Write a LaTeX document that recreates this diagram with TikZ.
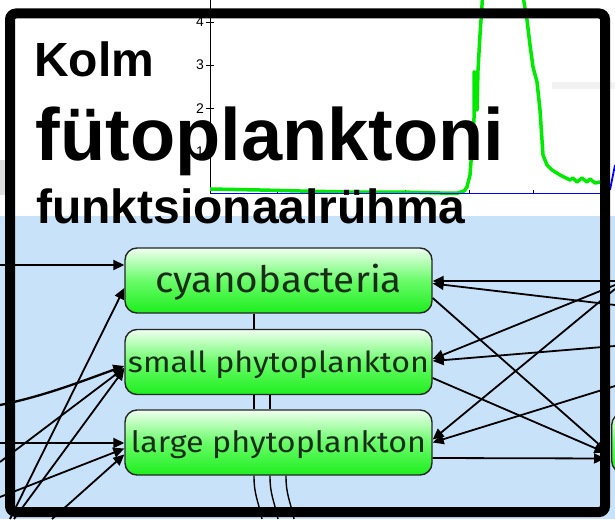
\documentclass[tikz,border=0pt]{standalone}
\usepackage{fontspec}
\usepackage{graphicx}
\setmainfont{Liberation Sans}
\newfontfamily\boxfont{Fira Sans}
\usetikzlibrary{arrows.meta,calc}
\definecolor{bgblue}{RGB}{200,226,250}
\definecolor{boxtop}{RGB}{240,255,240}
\definecolor{boxmid}{RGB}{105,252,105}
\definecolor{boxbot}{RGB}{30,238,30}
\definecolor{boxtext}{RGB}{25,45,25}
\definecolor{curvegreen}{RGB}{0,235,0}
\definecolor{axisblue}{RGB}{0,0,255}
\begin{document}
\begin{tikzpicture}[x=1pt,y=-1pt,
  phyto/.style={draw=black!85, line width=1.4pt, rounded corners=12pt,
    minimum width=307pt, minimum height=65pt, inner sep=0pt,
    top color=boxtop, bottom color=boxbot, middle color=boxmid, text=boxtext},
  link/.style={line width=1.8pt, draw=black, -{Triangle[length=11pt,width=10pt]}},
  tie/.style={line width=1.4pt, draw=black},
  title/.style={anchor=base west, inner sep=0pt, text=black},
  ticklab/.style={anchor=base east, inner sep=0pt, font=\fontsize{14}{14}\selectfont}
]
\clip (0,0) rectangle (615,519);
% backgrounds
\fill[white] (0,0) rectangle (615,519);
\fill[bgblue] (0,216) rectangle (615,519);
\fill[gray!25] (0,160) rectangle (5,195);
\fill[gray!10] (552,82) rectangle (615,89);

% plot
\draw[line width=1pt] (210,0) -- (210,194);
\foreach \yy/\lab in {22/4,65/3,108/2,151/1} {
  \draw[line width=0.8pt] (206,\yy) -- (214,\yy);
  \node[ticklab] at (204,\yy+5) {\lab};
}
\foreach \xx in {277,341,405,469,533} {
  \draw[line width=0.8pt] (\xx,194) -- (\xx,190);
}
\draw[curvegreen, line width=3.5pt, line join=round]
  (210,189) -- (260,190) -- (300,191) -- (350,192) -- (400,192) -- (440,193)
  -- (458,193) -- (464,191) -- (467,187) -- (470,175) -- (473,135) -- (474,118)
  -- (474,72) -- (476,73) -- (477,110) -- (478,70) -- (480,35) -- (483,-10)
  -- (522,-10) -- (527,20) -- (530,45) -- (533,67) -- (537,82) -- (540,110)
  -- (543,155) -- (547,165) -- (552,170) -- (560,175) -- (566,178) -- (570,180)
  -- (573,178) -- (577,182) -- (582,178) -- (587,182) -- (590,179) -- (595,183)
  -- (600,182);
\draw[axisblue, line width=1.8pt] (210,193.5) -- (600,193.5);
\draw[axisblue, line width=1.8pt] (610,190) -- (615,165);

% boxes
\node[phyto, text height=30pt, text depth=7pt] (cy) at (278.5,280.5)
  {\resizebox{247pt}{28.4pt}{\boxfont\fontsize{40}{40}\selectfont cyanobacteria}};
\node[phyto, text height=27pt, text depth=7pt] (sm) at (278.5,362)
  {\resizebox{301pt}{21.7pt}{\boxfont\fontsize{30}{30}\selectfont small phytoplankton}};
\node[phyto, text height=26pt, text depth=7pt] (lg) at (278.5,442.5)
  {\resizebox{295pt}{22pt}{\boxfont\fontsize{30}{30}\selectfont large phytoplankton}};
\node[phyto, minimum width=120pt, minimum height=60pt, anchor=west] (rt) at (611,443) {};

% free ends
\coordinate (L1) at (0,265);
\coordinate (L2) at (10,519);
\coordinate (L3) at (0,405);
\coordinate (L4) at (0,462);
\coordinate (L5) at (14,519);
\coordinate (L6) at (0,443);
\coordinate (L7) at (0,497);
\coordinate (L8) at (52,519);
\coordinate (R1) at (615,281);
\coordinate (R2) at (615,305);
\coordinate (R3) at (615,285);
\coordinate (R4) at (615,289);
\coordinate (R5) at (615,346);
\coordinate (R6) at (615,386);
\coordinate (B1) at (262,519);
\coordinate (B2) at (278,519);
\coordinate (B3) at (294,519);

% left connectors
\draw[link] (L1) -- (L1 -| cy.west);
\draw[link] (L2) -- ($(cy.west)+(0,7.5)$);
\draw[link, line width=2.3pt] (L3) .. controls (45,396) and (85,380) .. ($(sm.west)+(0,4)$);
\draw[link] (L4) -- ($(sm.west)+(0,6)$);
\draw[link] (L5) -- ($(sm.west)+(0,7)$);
\draw[link] (L6) -- (L6 -| lg.west);
\draw[link] (L7) -- ($(lg.west)+(0,6)$);
\draw[link] (L8) -- ($(lg.west)+(0,12)$);

% right connectors
\draw[link] (R1) -- (R1 -| cy.east);
\draw[link] (R2) -- ($(cy.east)+(0,3)$);
\draw[link] (R3) -- ($(sm.east)+(0,-3)$);
\draw[link] (R5) -- ($(sm.east)+(0,-1)$);
\draw[link] (R4) -- ($(lg.east)+(0,-3)$);
\draw[link] (R6) -- (lg.east);
\draw[link, shorten >=6pt] ($(cy.east)+(0,17.5)$) -- ($(rt.west)+(0,12)$);
\draw[link, shorten >=6pt] ($(sm.east)+(0,16)$) -- ($(rt.west)+(0,12)$);
\draw[link, shorten >=6pt] ($(lg.east)+(0,15.5)$) -- ($(rt.west)+(0,15.5)$);

% ties between boxes
\draw[tie] ($(cy.south)+(-24.5,0)$) -- ($(sm.north)+(-24.5,0)$);
\draw[tie] ($(sm.south)+(-24.5,0)$) -- ($(lg.north)+(-24.5,0)$);
\draw[tie] ($(sm.south)+(-8.5,0)$) -- ($(lg.north)+(-8.5,0)$);
\draw[tie] ($(lg.south)+(-24.5,0)$) .. controls (254,495) and (258,500) .. (B1);
\draw[tie] ($(lg.south)+(-8.5,0)$) .. controls (270,495) and (274,500) .. (B2);
\draw[tie] ($(lg.south)+(7.5,0)$) .. controls (286,495) and (290,500) .. (B3);

% title
\node[title, font=\bfseries\fontsize{48}{48}\selectfont] (t1) at (34,76) {Kolm};
\node[title, font=\bfseries\fontsize{74}{74}\selectfont] (t2) at (35.5,160) {fütoplanktoni};
\node[title, font=\bfseries\fontsize{48}{48}\selectfont] (t3) at (36,223) {funktsionaalrühma};

% frame
\draw[line width=10pt, rounded corners=6pt] (10,13.5) rectangle (605,512);
\end{tikzpicture}
\end{document}
